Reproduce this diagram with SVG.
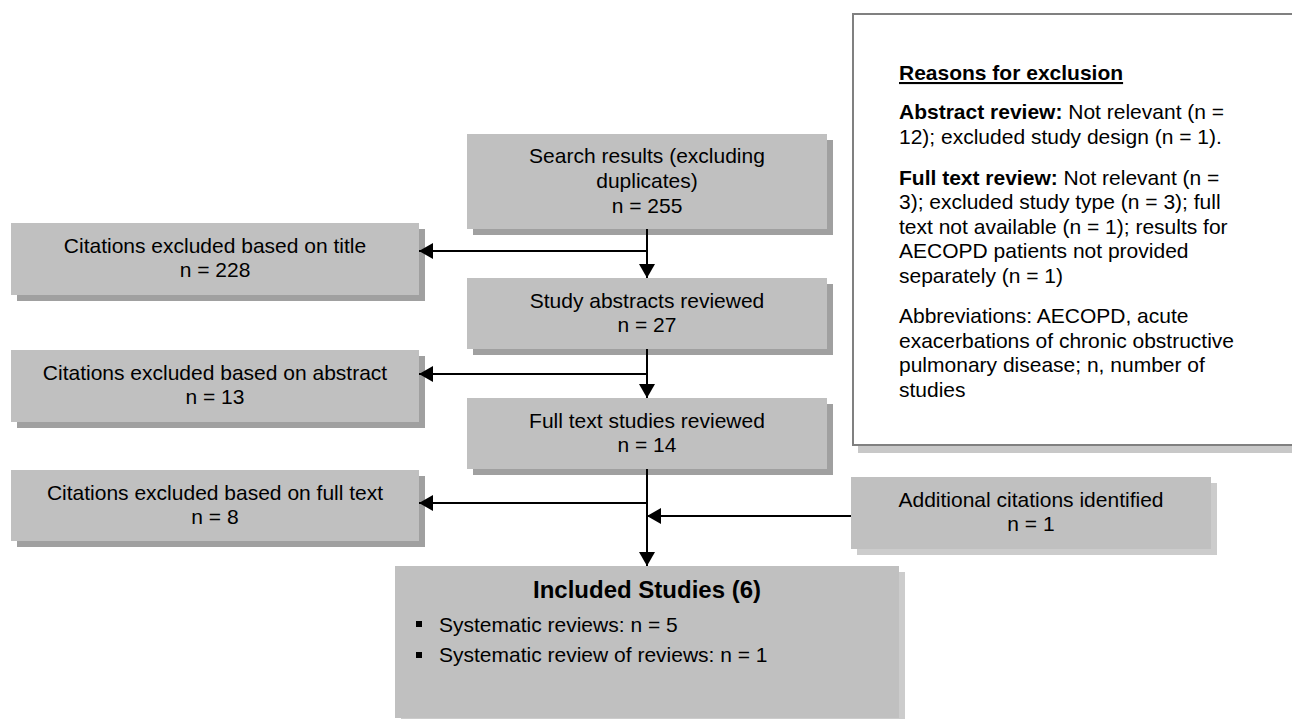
<svg xmlns="http://www.w3.org/2000/svg" width="1292" height="719" viewBox="0 0 1292 719">
<style>
  text { font-family: "Liberation Sans", Arial, sans-serif; font-size: 21px; fill: #000; }
  .c { text-anchor: middle; }
  .b { font-weight: bold; }
  .t { font-size: 24px; }
  .box { fill: #c0c0c0; }
  .sh { fill: #a0a0a0; }
  .shl { fill: #cccccc; }
  .conn { stroke: #000; stroke-width: 2; fill: none; }
</style>
<defs>
  <marker id="ah" markerUnits="userSpaceOnUse" markerWidth="14" markerHeight="16" refX="14" refY="8" orient="auto">
    <path d="M0,0 L14,8 L0,16 z" fill="#000"/>
  </marker>
</defs>
<rect width="1292" height="719" fill="#fff"/>

<g id="reasons">
  <rect x="858" y="19" width="440" height="434" fill="#c8c8c8"/>
  <rect x="853" y="14" width="445" height="431" fill="#fff" stroke="#808080" stroke-width="2"/>
  <text x="899" y="80" class="b" text-decoration="underline">Reasons for exclusion</text>
  <text x="899" y="119"><tspan class="b">Abstract review:</tspan> Not relevant (n =</text>
  <text x="899" y="144">12); excluded study design (n = 1).</text>
  <text x="899" y="185"><tspan class="b">Full text review:</tspan> Not relevant (n =</text>
  <text x="899" y="209">3); excluded study type (n = 3); full</text>
  <text x="899" y="234">text not available (n = 1); results for</text>
  <text x="899" y="258">AECOPD patients not provided</text>
  <text x="899" y="283">separately (n = 1)</text>
  <text x="899" y="323">Abbreviations: AECOPD, acute</text>
  <text x="899" y="348">exacerbations of chronic obstructive</text>
  <text x="899" y="372">pulmonary disease; n, number of</text>
  <text x="899" y="397">studies</text>
</g>

<g id="search">
  <rect x="473" y="140" width="360" height="95" class="sh"/>
  <rect x="467" y="134" width="360" height="95" class="box"/>
  <text x="647" y="163" class="c">Search results (excluding</text>
  <text x="647" y="188" class="c">duplicates)</text>
  <text x="647" y="213" class="c">n = 255</text>
</g>

<g id="abstracts">
  <rect x="473" y="284" width="360" height="71" class="sh"/>
  <rect x="467" y="278" width="360" height="71" class="box"/>
  <text x="647" y="308" class="c">Study abstracts reviewed</text>
  <text x="647" y="332" class="c">n = 27</text>
</g>

<g id="fulltext">
  <rect x="473" y="404" width="360" height="71" class="sh"/>
  <rect x="467" y="398" width="360" height="71" class="box"/>
  <text x="647" y="428" class="c">Full text studies reviewed</text>
  <text x="647" y="452" class="c">n = 14</text>
</g>

<g id="excl-title">
  <rect x="17" y="229" width="408" height="72" class="sh"/>
  <rect x="11" y="223" width="408" height="72" class="box"/>
  <text x="215" y="253" class="c">Citations excluded based on title</text>
  <text x="215" y="277" class="c">n = 228</text>
</g>

<g id="excl-abstract">
  <rect x="17" y="356" width="408" height="72" class="sh"/>
  <rect x="11" y="350" width="408" height="72" class="box"/>
  <text x="215" y="380" class="c">Citations excluded based on abstract</text>
  <text x="215" y="404" class="c">n = 13</text>
</g>

<g id="excl-fulltext">
  <rect x="17" y="476" width="408" height="71" class="sh"/>
  <rect x="11" y="470" width="408" height="71" class="box"/>
  <text x="215" y="500" class="c">Citations excluded based on full text</text>
  <text x="215" y="524" class="c">n = 8</text>
</g>

<g id="additional">
  <rect x="857" y="483" width="360" height="72" class="shl"/>
  <rect x="851" y="477" width="360" height="72" class="box"/>
  <text x="1031" y="507" class="c">Additional citations identified</text>
  <text x="1031" y="531" class="c">n = 1</text>
</g>

<g id="included">
  <rect x="401" y="572" width="504" height="160" class="shl"/>
  <rect x="395" y="566" width="504" height="152" class="box"/>
  <text x="647" y="598" class="c b t">Included Studies (6)</text>
  <rect x="416" y="621" width="6" height="6" fill="#000"/>
  <text x="439" y="632">Systematic reviews: n = 5</text>
  <rect x="416" y="652" width="6" height="6" fill="#000"/>
  <text x="439" y="662">Systematic review of reviews: n = 1</text>
</g>

<g id="connectors">
  <line x1="647" y1="229" x2="647" y2="278" class="conn" marker-end="url(#ah)"/>
  <line x1="647" y1="251" x2="419" y2="251" class="conn" marker-end="url(#ah)"/>
  <line x1="647" y1="349" x2="647" y2="398" class="conn" marker-end="url(#ah)"/>
  <line x1="647" y1="374" x2="419" y2="374" class="conn" marker-end="url(#ah)"/>
  <line x1="647" y1="469" x2="647" y2="566" class="conn" marker-end="url(#ah)"/>
  <line x1="647" y1="503" x2="419" y2="503" class="conn" marker-end="url(#ah)"/>
  <line x1="851" y1="516" x2="647" y2="516" class="conn" marker-end="url(#ah)"/>
</g>
</svg>
